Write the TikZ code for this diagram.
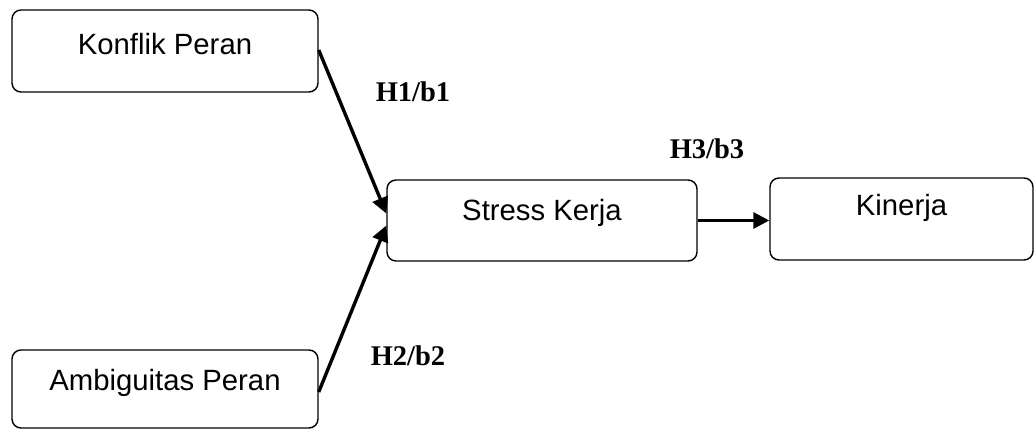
\documentclass[tikz,border=0pt]{standalone}
\usepackage{fontspec}
\setmainfont{Liberation Sans}
\newfontfamily\lserif{Liberation Serif}
\usetikzlibrary{arrows.meta}
\tikzset{
  box/.style={draw=black, line width=1.4pt, rounded corners=9pt, inner sep=0pt},
  txt/.style={font=\fontsize{29.3}{33}\selectfont, inner sep=0pt},
  hlab/.style={font=\lserif\bfseries\fontsize{28.5}{32}\selectfont, inner sep=0pt},
  conn/.style={line width=3.4pt, -{Triangle[length=16pt, width=16pt]}}
}
\begin{document}
\begin{tikzpicture}[x=1pt, y=-1pt]
\useasboundingbox (0,0) rectangle (1035,430);
\node[box, minimum width=306pt, minimum height=82pt] (k) at (165,51) {};
\node[txt] (kt) at (165,44) {Konflik Peran};
\node[box, minimum width=310pt, minimum height=81pt] (s) at (542,220.5) {};
\node[txt] (st) at (542,213) {Stress Kerja};
\node[box, minimum width=263pt, minimum height=82pt] (kin) at (901.5,219) {};
\node[txt] (kint) at (901.5,208) {Kinerja};
\node[box, minimum width=306pt, minimum height=78pt] (a) at (165,389) {};
\node[txt] (at) at (165,383) {Ambiguitas Peran};
\draw[conn] ([yshift=1pt]k.east) -- ([yshift=7pt]s.west);
\draw[conn] ([yshift=-3pt]a.east) -- ([yshift=-5pt]s.west);
\draw[conn] (s.east) -- (kin.west |- s.east);
\node[hlab] (h1) at (413,92) {H1/b1};
\node[hlab] (h3) at (707,149) {H3/b3};
\node[hlab] (h2) at (408,356) {H2/b2};
\end{tikzpicture}
\end{document}
